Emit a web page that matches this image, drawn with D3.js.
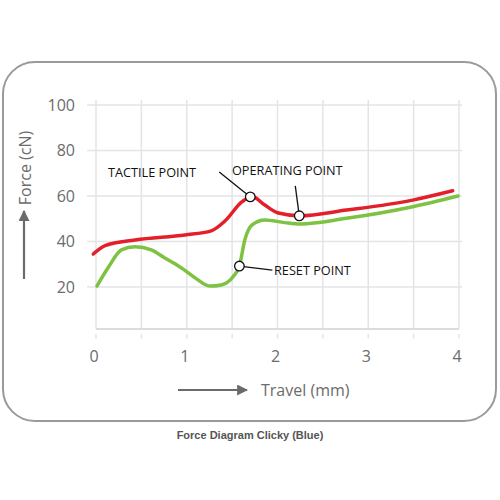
<!DOCTYPE html>
<html><head><meta charset="utf-8">
<script src="https://cdn.jsdelivr.net/npm/d3@7"></script>
<style>body{margin:0;background:#fff}svg{display:block}</style>
</head><body>
<svg id="c" width="500" height="500"></svg>
<script>
const yTicks = [20, 40, 60, 80, 100];
const xTicks = [0, 1, 2, 3, 4];
const xGrid = [0, 0.5, 1, 1.5, 2, 2.5, 3, 3.5, 4];
const redTravel  = [-0.03, 0.1, 0.43, 0.98, 1.27, 1.42, 1.61, 1.72, 1.86, 2.01, 2.24, 2.76, 3.49, 3.93];
const redForce   = [34.5, 38.2, 40.7, 42.9, 44.7, 49, 57.5, 59.8, 56, 52.5, 51.3, 53.8, 58.2, 62.3];
const greenTravel = [0.01, 0.14, 0.28, 0.43, 0.61, 0.75, 0.87, 0.98, 1.1, 1.26, 1.38, 1.51, 1.58, 1.64, 1.72, 1.86, 2.08, 2.25, 2.76, 3.49, 3.99];
const greenForce  = [20.4, 28.9, 36.3, 37.7, 36.3, 33, 30.2, 27.3, 23.8, 20.4, 20.9, 24.5, 29.2, 40.7, 47.3, 49.5, 48.3, 47.7, 50.2, 55.3, 60];
const pointNames = ["TACTILE POINT", "OPERATING POINT", "RESET POINT"];
const pointTravel = [1.70, 2.24, 1.58];
const pointForce = [59.6, 51.3, 29.2];

const svg = d3.select("#c");
const x = d3.scaleLinear().domain([0, 4]).range([96, 459]);
const y = d3.scaleLinear().domain([0, 100]).range([332.5, 105]);
const font = "'Open Sans', sans-serif";

svg.append("rect").attr("x", 3).attr("y", 62).attr("width", 493).attr("height", 359)
  .attr("rx", 32).attr("fill", "#fff").attr("stroke", "#9a9a9a").attr("stroke-width", 2);

const gridC = "#e4e4e8";
svg.append("g").selectAll("line").data(yTicks).join("line")
  .attr("x1", 87).attr("x2", 462).attr("y1", d => y(d)).attr("y2", d => y(d))
  .attr("stroke", gridC).attr("stroke-width", 1.5);
svg.append("g").selectAll("line").data(xGrid).join("line")
  .attr("x1", d => x(d)).attr("x2", d => x(d)).attr("y1", 100).attr("y2", 329)
  .attr("stroke", gridC).attr("stroke-width", 1.5);
svg.append("g").selectAll("line").data(xGrid).join("line")
  .attr("x1", d => x(d)).attr("x2", d => x(d)).attr("y1", 334).attr("y2", 338.5)
  .attr("stroke", gridC).attr("stroke-width", 1.5);
svg.append("line").attr("x1", x(0)).attr("x2", x(4)).attr("y1", 329).attr("y2", 329)
  .attr("stroke", "#dcdce0").attr("stroke-width", 1.8);

svg.append("g").selectAll("text").data(yTicks).join("text")
  .attr("x", 75).attr("y", d => y(d)).attr("dy", "0.36em").attr("text-anchor", "end")
  .attr("font-family", font).attr("font-size", 16).attr("fill", "#6b6b6b").text(d => d);
svg.append("g").selectAll("text").data(xTicks).join("text")
  .attr("x", d => x(d) - 2).attr("y", 356).attr("dy", "0.36em").attr("text-anchor", "middle")
  .attr("font-family", font).attr("font-size", 16).attr("fill", "#6b6b6b").text(d => d);

svg.append("defs").append("marker").attr("id", "ah").attr("viewBox", "0 0 10 10")
  .attr("refX", 9).attr("refY", 5).attr("markerWidth", 5).attr("markerHeight", 5)
  .attr("orient", "auto").attr("markerUnits", "strokeWidth")
  .append("path").attr("d", "M0,0 L10,5 L0,10 Z").attr("fill", "#6b6b6b");
svg.append("line").attr("x1", 24).attr("x2", 24).attr("y1", 279).attr("y2", 211)
  .attr("stroke", "#6b6b6b").attr("stroke-width", 2.2).attr("marker-end", "url(#ah)");
svg.append("text").attr("transform", "translate(25,168) rotate(-90)").attr("dy", "0.36em")
  .attr("text-anchor", "middle").attr("font-family", font).attr("font-size", 16)
  .attr("fill", "#6b6b6b").text("Force (cN)");
svg.append("line").attr("x1", 178).attr("x2", 247).attr("y1", 390).attr("y2", 390)
  .attr("stroke", "#6b6b6b").attr("stroke-width", 2.2).attr("marker-end", "url(#ah)");
svg.append("text").attr("x", 261).attr("y", 390).attr("dy", "0.36em")
  .attr("font-family", font).attr("font-size", 16).attr("fill", "#6b6b6b").text("Travel (mm)");

svg.append("text").attr("x", 250).attr("y", 435).attr("dy", "0.36em").attr("text-anchor", "middle")
  .attr("font-family", "'Liberation Sans', Arial, sans-serif").attr("font-weight", "bold")
  .attr("font-size", 11).attr("fill", "#555").text("Force Diagram Clicky (Blue)");

const line = d3.line().x(d => x(d[0])).y(d => y(d[1])).curve(d3.curveMonotoneX);
const red = d3.zip(redTravel, redForce);
const green = d3.zip(greenTravel, greenForce);
svg.append("path").attr("d", line(green)).attr("fill", "none").attr("stroke", "#7dc242")
  .attr("stroke-width", 3.5).attr("stroke-linecap", "round");
svg.append("path").attr("d", line(red)).attr("fill", "none").attr("stroke", "#e3202a")
  .attr("stroke-width", 3.5).attr("stroke-linecap", "round");

const pts = pointNames.map((n, i) => ({n, px: x(pointTravel[i]), py: y(pointForce[i])}));
const leaders = [[pts[0].px - 31, pts[0].py - 25], [pts[1].px - 4, pts[1].py - 30], [pts[2].px + 33, pts[2].py + 4]];
pts.forEach((p, i) => {
  svg.append("line").attr("x1", p.px).attr("y1", p.py).attr("x2", leaders[i][0]).attr("y2", leaders[i][1])
    .attr("stroke", "#111").attr("stroke-width", 1.3);
});
svg.selectAll("circle.pt").data(pts).join("circle").attr("class", "pt")
  .attr("cx", d => d.px).attr("cy", d => d.py).attr("r", 4.8)
  .attr("fill", "#fff").attr("stroke", "#111").attr("stroke-width", 1.3);
const labelPos = [[108, 172], [232, 170], [274, 270]];
pts.forEach((p, i) => {
  svg.append("text").attr("x", labelPos[i][0]).attr("y", labelPos[i][1]).attr("dy", "0.36em")
    .attr("font-family", font).attr("font-size", 12.7).attr("fill", "#111").text(p.n);
});
</script>
</body></html>
